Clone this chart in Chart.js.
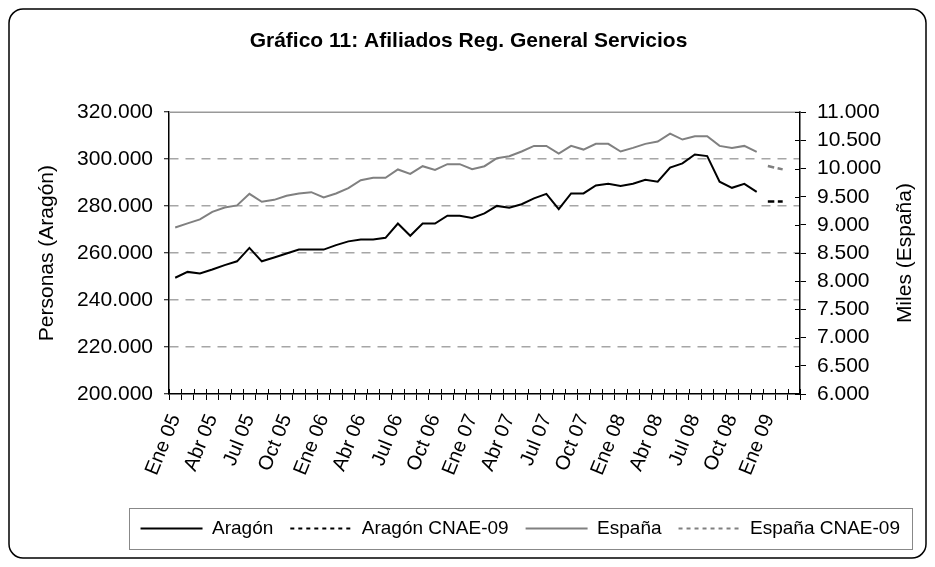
<!DOCTYPE html>
<html>
<head>
<meta charset="utf-8">
<script src="https://cdn.jsdelivr.net/npm/chart.js@4.4.1/dist/chart.umd.min.js"></script>
<style>
  html, body { margin: 0; padding: 0; background: #fff; }
  #wrap { width: 935px; height: 567px; }
</style>
</head>
<body>
<div id="wrap"><canvas id="grafico" width="935" height="567"></canvas></div>
<script>
// categorias: Ene 05 .. Mar 09
const meses = ['Ene', 'Feb', 'Mar', 'Abr', 'May', 'Jun', 'Jul', 'Ago', 'Sep', 'Oct', 'Nov', 'Dic'];
const anios = ['05', '06', '07', '08', '09'];
const numMeses = 51;

// Personas (eje izquierdo)
const aragon = [
  249500, 252000, 251300, 253000, 254900, 256500, 262200, 256500, 258100, 259800, 261500, 261500,
  261500, 263400, 265000, 265800, 265800, 266500, 272600, 267400, 272600, 272600, 275900, 275900,
  275000, 276900, 280100, 279300, 280800, 283300, 285200, 278700, 285400, 285400, 288800, 289500,
  288600, 289500, 291200, 290400, 296400, 298200, 302000, 301300, 290400, 287800, 289500, 286100
];
const aragonCnae09 = [282000, 282000];

// Miles (eje derecho)
const espana = [
  8955, 9027, 9097, 9232, 9310, 9346, 9552, 9410, 9445, 9516, 9558, 9581,
  9487, 9558, 9652, 9794, 9835, 9835, 9984, 9906, 10042, 9977, 10078, 10078,
  9990, 10042, 10184, 10220, 10303, 10402, 10402, 10266, 10402, 10337, 10438, 10438,
  10303, 10367, 10438, 10479, 10621, 10515, 10574, 10574, 10402, 10367, 10402, 10296
];
const espanaCnae09 = [10040, 9990];

const ejeIzq = { min: 200000, max: 320000, step: 20000 };
const ejeDer = { min: 6000, max: 11000, step: 500 };

const categorias = [];
anios.forEach(a => meses.forEach(m => categorias.push(m + ' ' + a)));
categorias.length = numMeses;

const fuente = "'Liberation Sans', Arial, sans-serif";

function miles(n) {
  return String(n).replace(/\B(?=(\d{3})+(?!\d))/g, '.');
}

function alFinal(valores, desde) {
  const arr = new Array(numMeses).fill(null);
  valores.forEach((v, i) => arr[desde + i] = v);
  return arr;
}

const marco = {
  id: 'marco',
  beforeDraw(chart) {
    const ctx = chart.ctx;
    ctx.save();
    ctx.fillStyle = '#fff';
    ctx.fillRect(0, 0, chart.width, chart.height);
    ctx.restore();
  },
  afterDraw(chart) {
    const ctx = chart.ctx;
    const area = chart.chartArea;
    ctx.save();

    // borde superior del area de trazado
    ctx.strokeStyle = '#999';
    ctx.lineWidth = 1.5;
    ctx.beginPath();
    ctx.moveTo(area.left, area.top);
    ctx.lineTo(area.right, area.top);
    ctx.stroke();

    // marcas que cruzan el eje (parte interior)
    ctx.strokeStyle = '#000';
    ctx.lineWidth = 1;
    const x = chart.scales.x;
    ctx.beginPath();
    for (let i = 0; i <= categorias.length; i++) {
      const px = Math.round(x.getPixelForValue(i - 0.5)) + 0.5;
      ctx.moveTo(px, area.bottom);
      ctx.lineTo(px, area.bottom - 5);
    }
    const yd = chart.scales.y1;
    yd.ticks.forEach((t, i) => {
      const py = Math.round(yd.getPixelForTick(i)) + 0.5;
      ctx.moveTo(area.right, py);
      ctx.lineTo(area.right - 5, py);
    });
    ctx.stroke();

    // titulo eje derecho (leido de abajo arriba)
    ctx.fillStyle = '#000';
    ctx.font = '21px ' + fuente;
    ctx.textAlign = 'center';
    ctx.textBaseline = 'middle';
    ctx.translate(905, (area.top + area.bottom) / 2);
    ctx.rotate(-Math.PI / 2);
    ctx.fillText('Miles (España)', 0, 0);
    ctx.setTransform(1, 0, 0, 1, 0, 0);

    // recuadro de la leyenda
    const hb = chart.legend.legendHitBoxes;
    if (hb && hb.length) {
      const l = hb[0].left - 12;
      const r = hb[hb.length - 1].left + hb[hb.length - 1].width + 12;
      const t = hb[0].top - 11;
      const b = hb[0].top + hb[0].height + 11;
      ctx.strokeStyle = '#888';
      ctx.lineWidth = 1;
      ctx.strokeRect(Math.round(l) + 0.5, Math.round(t) + 0.5, Math.round(r - l), Math.round(b - t));
    }

    // borde redondeado exterior
    ctx.strokeStyle = '#000';
    ctx.lineWidth = 1.5;
    ctx.beginPath();
    ctx.roundRect(9, 9, 917, 549, 14);
    ctx.stroke();
    ctx.restore();
  }
};

new Chart(document.getElementById('grafico'), {
  type: 'line',
  data: {
    labels: categorias,
    datasets: [
      {
        label: 'Aragón',
        data: alFinal(aragon, 0),
        borderColor: '#000',
        borderWidth: 2,
        yAxisID: 'y'
      },
      {
        label: 'Aragón CNAE-09',
        data: alFinal(aragonCnae09, aragon.length),
        borderColor: '#000',
        borderWidth: 2.5,
        borderDash: [4, 6],
        borderCapStyle: 'square',
        yAxisID: 'y'
      },
      {
        label: 'España',
        data: alFinal(espana, 0),
        borderColor: '#808080',
        borderWidth: 2,
        yAxisID: 'y1'
      },
      {
        label: 'España CNAE-09',
        data: alFinal(espanaCnae09, espana.length),
        borderColor: '#808080',
        borderWidth: 2.5,
        borderDash: [4, 6],
        borderCapStyle: 'square',
        yAxisID: 'y1'
      }
    ]
  },
  options: {
    responsive: false,
    animation: false,
    devicePixelRatio: 1,
    elements: {
      point: { radius: 0 },
      line: { tension: 0, borderJoinStyle: 'miter' }
    },
    layout: { padding: { left: 20, right: 18, top: 0, bottom: 19 } },
    plugins: {
      tooltip: { enabled: false },
      title: {
        display: true,
        text: 'Gráfico 11: Afiliados Reg. General Servicios',
        color: '#000',
        font: { family: fuente, size: 21, weight: 'bold' },
        padding: { top: 29, bottom: 58 }
      },
      legend: {
        position: 'bottom',
        align: 'end',
        labels: {
          color: '#000',
          font: { family: fuente, size: 19 },
          usePointStyle: true,
          pointStyleWidth: 62,
          padding: 17,
          generateLabels(chart) {
            return chart.data.datasets.map((ds, i) => ({
              text: ds.label,
              strokeStyle: ds.borderColor,
              fillStyle: 'transparent',
              lineWidth: 2,
              lineDash: ds.borderDash ? [4, 4] : [],
              pointStyle: 'line',
              hidden: false,
              datasetIndex: i,
              fontColor: '#000'
            }));
          }
        }
      }
    },
    scales: {
      x: {
        type: 'category',
        offset: true,
        afterFit(scale) { scale.height = 108; },
        grid: {
          offset: true,
          drawOnChartArea: false,
          tickLength: 6,
          tickColor: '#000'
        },
        border: { color: '#000', width: 1.5 },
        ticks: {
          autoSkip: false,
          maxRotation: 68,
          minRotation: 68,
          padding: 11,
          labelOffset: 0,
          color: '#000',
          font: { family: fuente, size: 20 },
          callback(v, i) { return i % 3 === 0 ? this.getLabelForValue(v) : ''; }
        }
      },
      y: {
        position: 'left',
        min: ejeIzq.min,
        max: ejeIzq.max,
        afterFit(scale) { scale.width = 149; },
        grid: {
          color: (c) => (c.tick && (c.tick.value === ejeIzq.min || c.tick.value === ejeIzq.max)) ? 'rgba(0,0,0,0)' : '#a6a6a6',
          lineWidth: 1.5,
          tickLength: 5,
          tickColor: '#000',
          tickWidth: 1
        },
        border: { color: '#000', width: 1.5, dash: [9, 7] },
        ticks: {
          stepSize: ejeIzq.step,
          autoSkip: false,
          padding: 11,
          color: '#000',
          font: { family: fuente, size: 21 },
          callback: (v) => miles(v)
        },
        title: {
          display: true,
          text: 'Personas (Aragón)',
          color: '#000',
          font: { family: fuente, size: 21 },
          padding: { top: 15, bottom: 0 }
        }
      },
      y1: {
        position: 'right',
        min: ejeDer.min,
        max: ejeDer.max,
        afterFit(scale) { scale.width = 117; },
        grid: {
          drawOnChartArea: false,
          tickLength: 6,
          tickColor: '#000'
        },
        border: { color: '#000', width: 1.5 },
        ticks: {
          stepSize: ejeDer.step,
          autoSkip: false,
          padding: 11,
          color: '#000',
          font: { family: fuente, size: 21 },
          callback: (v) => miles(v)
        }
      }
    }
  },
  plugins: [marco]
});
</script>
</body>
</html>
